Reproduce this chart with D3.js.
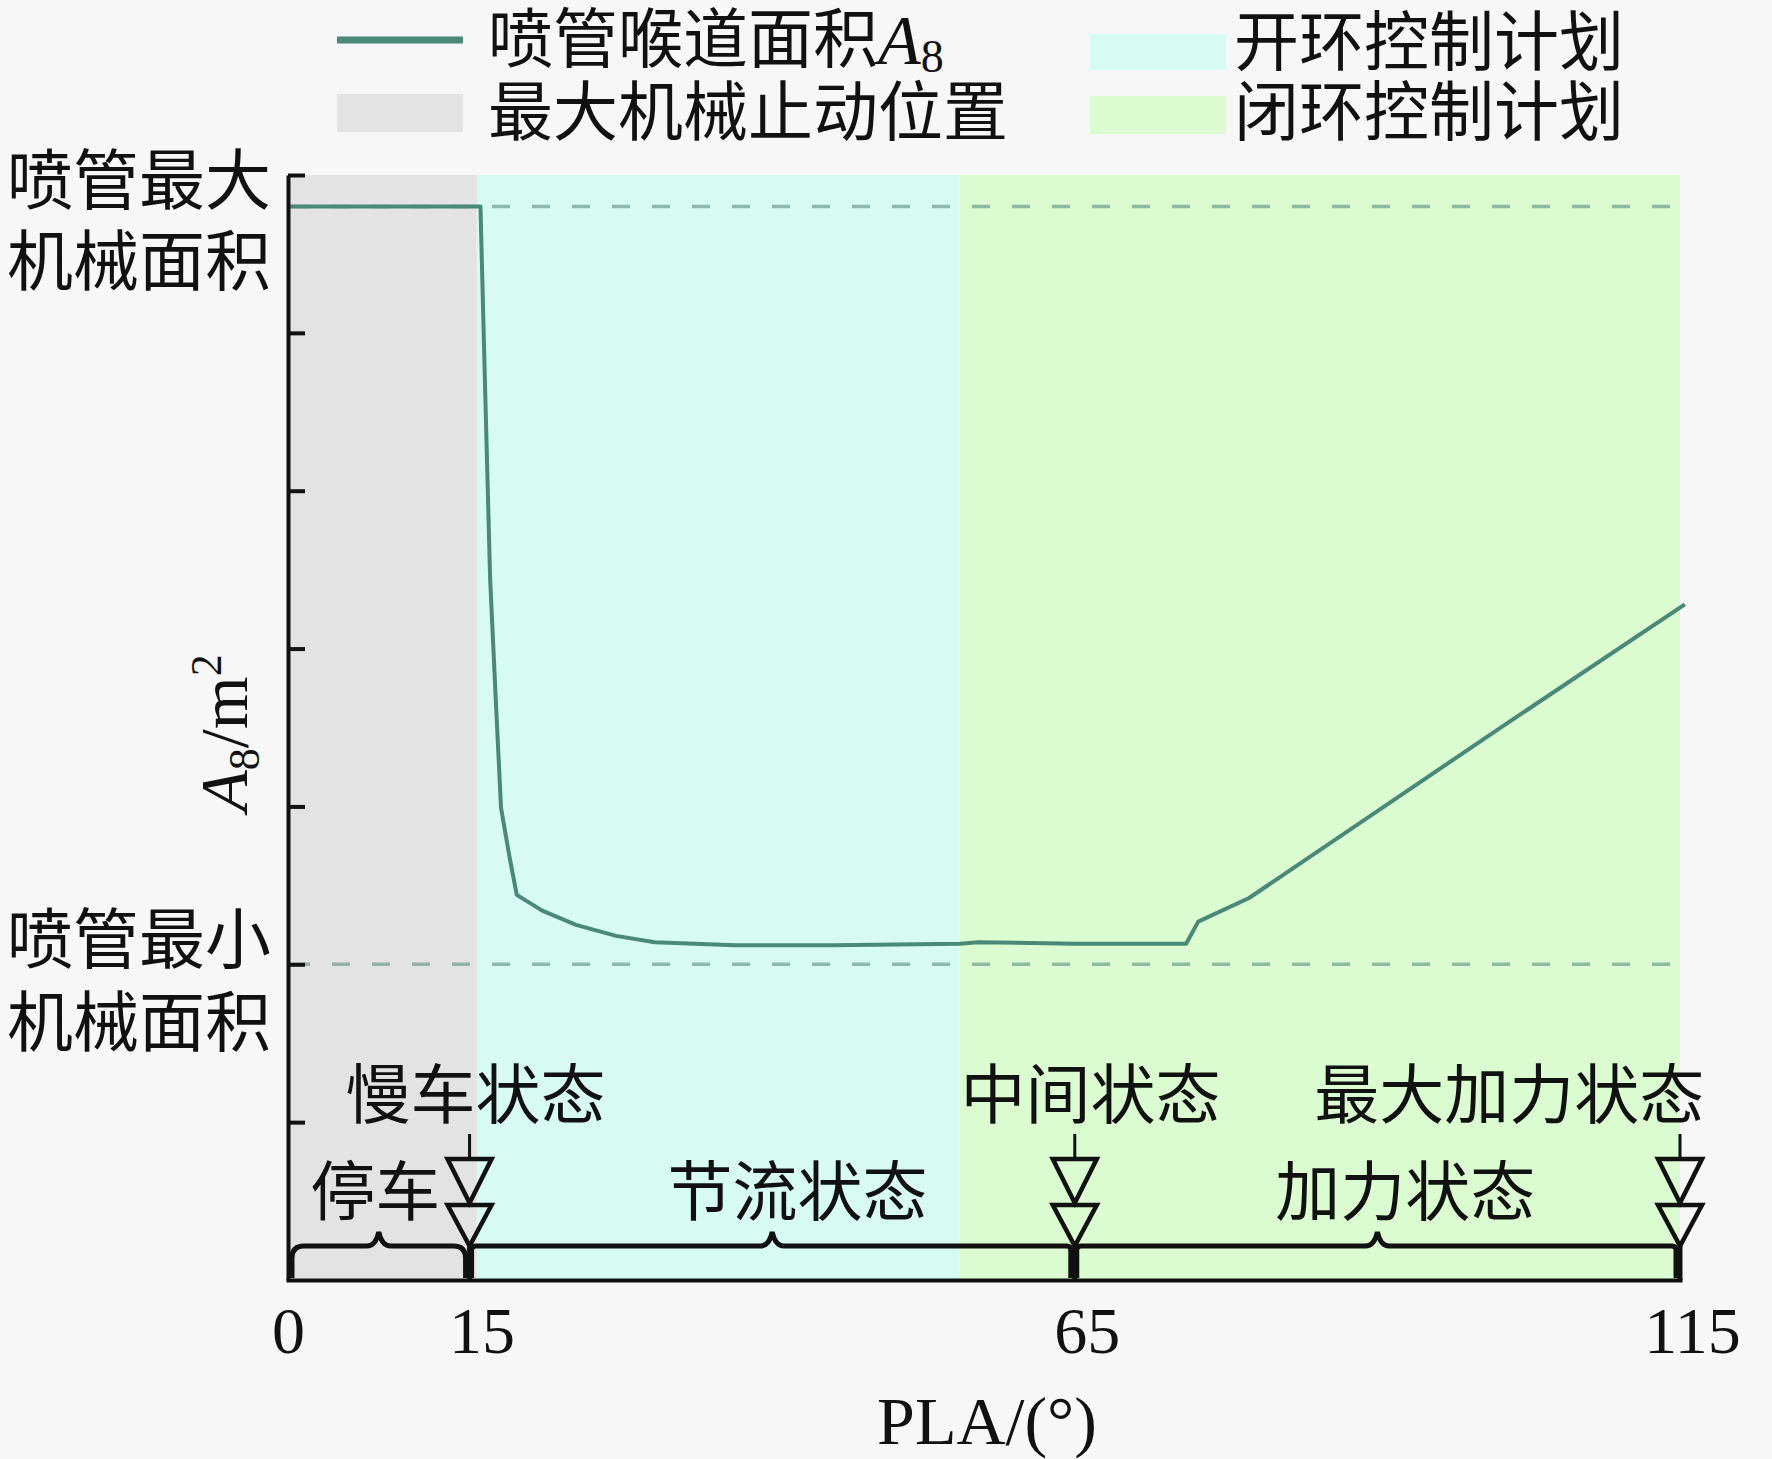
<!DOCTYPE html>
<html>
<head>
<meta charset="utf-8">
<script src="https://cdn.jsdelivr.net/npm/d3@7"></script>
<style>
  body { margin: 0; background: #f7f7f7; }
  svg { display: block; }
</style>
</head>
<body>
<svg></svg>
<script>
var w = 1772;
var h = 1459;

// curve: PLA (deg) vs A8 (relative units, 0..7 on the y axis)
var pla  = [0, 15.9, 16.3, 16.7, 17.2, 17.6, 18.3, 18.9, 21.0, 23.8, 27.1, 30.3, 36.9, 45.0, 55.5, 57.0, 65.0, 74.2, 75.2, 79.4, 90.0, 100.0, 115.4];
var area = [6.80, 6.80, 5.60, 4.44, 3.62, 2.99, 2.68, 2.44, 2.34, 2.25, 2.18, 2.14, 2.12, 2.12, 2.13, 2.14, 2.13, 2.13, 2.27, 2.42, 2.97, 3.49, 4.28];

var maxArea = 6.80;
var minArea = 2;
var yTicks = [1, 2, 3, 4, 5, 6, 7];
var xTicks = [0, 15, 65, 115];

// background bands
var bandStart = [0, 15.6, 55.5];
var bandEnd   = [15.6, 55.5, 115];
var bandColor = ["#e3e3e3", "#d7fbf3", "#dafcd0"];

// states on the PLA axis
var markPla = [15, 65, 115];
var braceFrom = [0, 15, 65];
var braceTo   = [15, 65, 115];

var topLabels = ["慢车状态", "中间状态", "最大加力状态"];
var topLabelPla = [15.5, 66.3, 100.9];
var lowLabels = ["停车", "节流状态", "加力状态"];
var lowLabelPla = [7.2, 42.1, 92.3];

var legendText = ["最大机械止动位置", "开环控制计划", "闭环控制计划"];

var cjk = "'Liberation Serif', 'Noto Sans CJK SC', sans-serif";
var serif = "'Liberation Serif', 'Times New Roman', serif";
var lineColor = "#4a8878";

var x = d3.scaleLinear().domain([0, 115]).range([288, 1680]);
var y = d3.scaleLinear().domain([0, 7]).range([1280, 175]);

var axisY = y(0);
var braceY = 1246;

function brace(a, b, mid, first) {
  var x0 = x(a) + (first ? 4 : 2), x1 = x(b) - 4, xm = x(mid), r = first ? 12 : 4;
  return "M" + x0 + "," + (axisY - 2) +
    " V" + (braceY + r) +
    " Q" + x0 + "," + braceY + " " + (x0 + r) + "," + braceY +
    " H" + (xm - 12) +
    " Q" + (xm - 3) + "," + braceY + " " + xm + "," + (braceY - 14) +
    " Q" + (xm + 3) + "," + braceY + " " + (xm + 12) + "," + braceY +
    " H" + (x1 - r) +
    " Q" + x1 + "," + braceY + " " + x1 + "," + (braceY + r) +
    " V" + (axisY - 2);
}

function tri(cx, top, bottom) {
  var hw = 22;
  return "M" + (cx - hw) + "," + top + " H" + (cx + hw) + " L" + cx + "," + bottom + " Z";
}

function draw() {
  var svg = d3.select("svg").attr("width", w).attr("height", h)
    .style("background", "#f7f7f7");

  // bands
  svg.selectAll("rect.band")
    .data(bandStart)
    .enter()
    .append("rect")
    .attr("class", "band")
    .attr("x", function(d) { return x(d); })
    .attr("y", y(7))
    .attr("width", function(d, i) { return x(bandEnd[i]) - x(d); })
    .attr("height", y(0) - y(7))
    .attr("fill", function(d, i) { return bandColor[i]; });

  // dashed max / min lines
  svg.selectAll("line.limit")
    .data([maxArea, minArea])
    .enter()
    .append("line")
    .attr("class", "limit")
    .attr("x1", x(0) + 4)
    .attr("x2", x(115))
    .attr("y1", function(d) { return y(d); })
    .attr("y2", function(d) { return y(d); })
    .attr("stroke", "#6f9e8e")
    .attr("stroke-opacity", 0.7)
    .attr("stroke-width", 3.5)
    .attr("stroke-dasharray", "18,22");

  // curve
  var line = d3.line()
    .x(function(d) { return x(d); })
    .y(function(d, i) { return y(area[i]); });

  svg.append("path")
    .attr("d", line(pla))
    .attr("fill", "none")
    .attr("stroke", lineColor)
    .attr("stroke-width", 4)
    .attr("stroke-linejoin", "round");

  // axes
  var yAxis = svg.append("g")
    .attr("transform", "translate(" + x(0) + ",0)")
    .call(d3.axisLeft(y).tickValues(yTicks).tickSize(-17).tickSizeOuter(0).tickFormat(""));
  yAxis.selectAll("path, line").attr("stroke", "#111").attr("stroke-width", 4);

  var xAxis = svg.append("g")
    .attr("transform", "translate(0," + axisY + ")")
    .call(d3.axisBottom(x).tickValues(xTicks).tickSize(0).tickSizeOuter(0).tickPadding(26));
  xAxis.select("path").attr("stroke", "#111").attr("stroke-width", 4).attr("stroke-linecap", "square");
  xAxis.selectAll("text")
    .attr("font-family", serif)
    .attr("font-size", 66)
    .attr("fill", "#111")
    .attr("dx", function(d) { return d ? 12 : 0; });

  // braces
  svg.selectAll("path.brace")
    .data(braceFrom)
    .enter()
    .append("path")
    .attr("class", "brace")
    .attr("d", function(d, i) { return brace(d, braceTo[i], (d + braceTo[i]) / 2, i === 0); })
    .attr("fill", "none")
    .attr("stroke", "#111")
    .attr("stroke-width", 5);

  // markers at state points
  var mk = svg.selectAll("g.mark")
    .data(markPla)
    .enter()
    .append("g")
    .attr("class", "mark");

  mk.append("line")
    .attr("x1", function(d) { return x(d); })
    .attr("x2", function(d) { return x(d); })
    .attr("y1", 1134)
    .attr("y2", 1159)
    .attr("stroke", "#111")
    .attr("stroke-width", 3);

  mk.append("line")
    .attr("x1", function(d) { return x(d); })
    .attr("x2", function(d) { return x(d); })
    .attr("y1", braceY)
    .attr("y2", axisY)
    .attr("stroke", "#111")
    .attr("stroke-width", 5);

  mk.append("path")
    .attr("d", function(d) { return tri(x(d), 1159, 1203); })
    .attr("fill", "none")
    .attr("stroke", "#111")
    .attr("stroke-width", 4.5)
    .attr("stroke-linejoin", "miter");

  mk.append("path")
    .attr("d", function(d) { return tri(x(d), 1205, braceY); })
    .attr("fill", "none")
    .attr("stroke", "#111")
    .attr("stroke-width", 4.5)
    .attr("stroke-linejoin", "miter");

  // state labels
  svg.selectAll("text.top")
    .data(topLabels)
    .enter()
    .append("text")
    .attr("class", "top")
    .text(function(d) { return d; })
    .attr("x", function(d, i) { return x(topLabelPla[i]); })
    .attr("y", 1096)
    .attr("text-anchor", "middle")
    .attr("dominant-baseline", "central")
    .attr("font-family", cjk)
    .attr("font-size", 65)
    .attr("fill", "#111");

  svg.selectAll("text.low")
    .data(lowLabels)
    .enter()
    .append("text")
    .attr("class", "low")
    .text(function(d) { return d; })
    .attr("x", function(d, i) { return x(lowLabelPla[i]); })
    .attr("y", 1193)
    .attr("text-anchor", "middle")
    .attr("dominant-baseline", "central")
    .attr("font-family", cjk)
    .attr("font-size", 65)
    .attr("fill", "#111");

  // y end labels
  var endLabels = [["喷管最大", "机械面积"], ["喷管最小", "机械面积"]];
  var endY = [[181, 262], [940, 1023]];
  endLabels.forEach(function(pair, k) {
    pair.forEach(function(t, j) {
      svg.append("text")
        .text(t)
        .attr("x", 271)
        .attr("y", endY[k][j])
        .attr("text-anchor", "end")
        .attr("dominant-baseline", "central")
        .attr("font-family", cjk)
        .attr("font-size", 66)
        .attr("fill", "#111");
    });
  });

  // axis titles
  svg.append("text")
    .text("PLA/(°)")
    .attr("x", 987)
    .attr("y", 1444)
    .attr("text-anchor", "middle")
    .attr("font-family", serif)
    .attr("font-size", 68)
    .attr("fill", "#111");

  var yt = svg.append("text")
    .attr("transform", "translate(247,733) rotate(-90)")
    .attr("text-anchor", "middle")
    .attr("font-family", serif)
    .attr("font-size", 68)
    .attr("fill", "#111");
  yt.append("tspan").text("A").attr("font-style", "italic");
  yt.append("tspan").text("8").attr("font-size", 44).attr("dy", 12);
  yt.append("tspan").text("/m").attr("dy", -12);
  yt.append("tspan").text("2").attr("font-size", 44).attr("dy", -26);

  // legend
  var lg = svg.append("g");
  lg.append("line")
    .attr("x1", 337).attr("x2", 463)
    .attr("y1", 40).attr("y2", 40)
    .attr("stroke", lineColor)
    .attr("stroke-width", 7);

  var lt = lg.append("text")
    .attr("x", 488)
    .attr("y", 40)
    .attr("dominant-baseline", "central")
    .attr("font-family", cjk)
    .attr("font-size", 65)
    .attr("fill", "#111");
  lt.append("tspan").text("喷管喉道面积");
  lt.append("tspan").text("A").attr("font-family", serif).attr("font-style", "italic").attr("font-size", 70);
  lt.append("tspan").text("8").attr("font-family", serif).attr("font-size", 46).attr("dy", 16);

  var boxX = [337, 1090, 1090];
  var boxY = [94, 34, 96];
  var textX = [488, 1234, 1234];
  var textY = [113, 43, 113];
  var boxC = [bandColor[0], bandColor[1], bandColor[2]];
  lg.selectAll("rect")
    .data(legendText)
    .enter()
    .append("rect")
    .attr("x", function(d, i) { return boxX[i]; })
    .attr("y", function(d, i) { return boxY[i]; })
    .attr("width", function(d, i) { return i ? 136 : 126; })
    .attr("height", function(d, i) { return i === 1 ? 36 : 38; })
    .attr("fill", function(d, i) { return boxC[i]; });

  lg.selectAll("text.leg")
    .data(legendText)
    .enter()
    .append("text")
    .attr("class", "leg")
    .text(function(d) { return d; })
    .attr("x", function(d, i) { return textX[i]; })
    .attr("y", function(d, i) { return textY[i]; })
    .attr("dominant-baseline", "central")
    .attr("font-family", cjk)
    .attr("font-size", 65)
    .attr("fill", "#111");
}

draw();
</script>
</body>
</html>
